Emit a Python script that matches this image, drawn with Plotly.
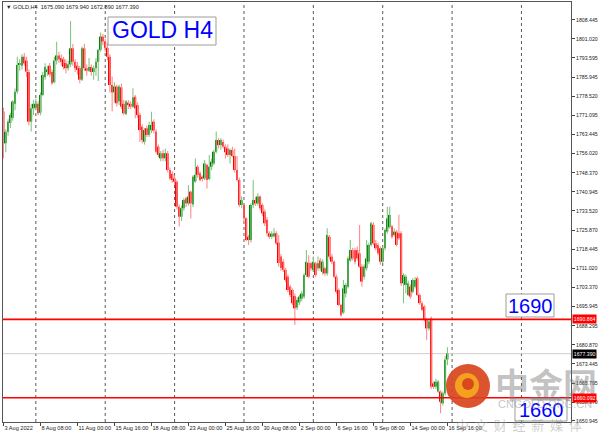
import plotly.graph_objects as go

# ---------------- data ----------------
symbol = "GOLD"
timeframe = "H4"

opens = [1772.5, 1760.0, 1764.5, 1768.0, 1770.0, 1775.5, 1780.3, 1790.8, 1790.5, 1794.0,
         1792.5, 1788.0, 1768.5, 1773.7, 1774.0, 1775.5, 1772.0, 1779.0, 1786.0, 1788.0,
         1790.5, 1788.0, 1784.0, 1792.5, 1794.5, 1793.5, 1793.0, 1791.5, 1789.5, 1791.0,
         1797.3, 1792.0, 1790.5, 1789.5, 1785.0, 1797.3, 1789.5, 1788.5, 1790.0, 1788.0,
         1789.5, 1792.0, 1796.7, 1801.9, 1800.0, 1797.5, 1794.0, 1782.9, 1780.0, 1782.3,
         1776.5, 1782.0, 1775.5, 1771.5, 1776.0, 1775.5, 1774.4, 1778.3, 1775.0, 1771.1,
         1766.5, 1760.6, 1765.9, 1763.3, 1765.2, 1768.5, 1764.6, 1758.7, 1754.1, 1756.1,
         1754.1, 1756.1, 1749.5, 1748.0, 1746.2, 1744.9, 1735.1, 1731.2, 1734.5, 1738.4,
         1736.4, 1741.0, 1736.0, 1745.0, 1750.8, 1748.2, 1746.9, 1746.2, 1751.5, 1746.0,
         1750.8, 1752.1, 1756.7, 1761.3, 1759.3, 1760.5, 1758.7, 1758.0, 1755.4, 1757.4,
         1755.0, 1749.5, 1745.6, 1735.8, 1735.8, 1730.6, 1723.3, 1722.0, 1735.8, 1737.7,
         1736.4, 1739.1, 1735.8, 1733.2, 1730.0, 1724.7, 1723.3, 1723.5, 1724.7, 1721.0,
         1715.5, 1713.5, 1710.3, 1707.6, 1703.7, 1702.4, 1700.0, 1695.5, 1697.5, 1699.0,
         1699.8, 1708.3, 1713.0, 1712.9, 1710.3, 1712.9, 1710.9, 1714.0, 1709.5, 1710.9,
         1708.9, 1723.3, 1715.5, 1713.5, 1707.6, 1702.4, 1696.5, 1693.5, 1701.0, 1703.7,
         1714.0, 1718.1, 1718.0, 1718.1, 1716.8, 1711.6, 1707.6, 1710.9, 1713.5, 1720.1,
         1728.0, 1720.7, 1720.0, 1718.8, 1713.5, 1718.8, 1725.3, 1727.0, 1727.3, 1724.0,
         1725.3, 1724.7, 1724.7, 1705.0, 1704.4, 1700.4, 1703.7, 1701.7, 1703.7, 1707.0,
         1700.4, 1697.2, 1695.9, 1690.6, 1687.3, 1691.3, 1665.7, 1664.4, 1662.5, 1662.5,
         1657.9, 1661.8, 1675.09]
highs = [1774.0, 1765.5, 1769.5, 1772.0, 1777.0, 1781.5, 1794.0, 1793.0, 1795.0, 1795.5,
         1794.0, 1789.0, 1775.5, 1777.0, 1777.5, 1776.5, 1780.0, 1788.0, 1791.4, 1790.5,
         1791.5, 1789.0, 1794.0, 1799.9, 1796.0, 1795.0, 1794.0, 1793.0, 1792.5, 1808.0,
         1799.0, 1793.0, 1792.0, 1790.5, 1798.0, 1799.0, 1791.0, 1793.5, 1791.0, 1790.5,
         1793.5, 1797.0, 1803.5, 1803.0, 1801.0, 1799.5, 1795.0, 1786.2, 1784.0, 1783.0,
         1783.0, 1783.5, 1777.0, 1777.0, 1777.0, 1776.5, 1781.6, 1779.0, 1776.0, 1772.0,
         1767.5, 1766.0, 1767.0, 1768.5, 1772.4, 1769.5, 1765.5, 1759.5, 1757.0, 1757.5,
         1758.0, 1757.0, 1750.5, 1749.0, 1747.5, 1745.5, 1736.0, 1735.5, 1738.5, 1739.0,
         1743.6, 1741.5, 1747.5, 1754.0, 1751.5, 1749.0, 1747.5, 1753.4, 1752.0, 1755.4,
         1754.0, 1757.5, 1764.6, 1762.0, 1762.0, 1761.5, 1759.5, 1759.5, 1758.0, 1758.7,
         1758.0, 1755.0, 1746.5, 1739.1, 1736.5, 1731.0, 1724.0, 1736.5, 1745.6, 1739.0,
         1740.4, 1739.5, 1736.5, 1734.0, 1731.0, 1725.5, 1725.5, 1726.6, 1725.5, 1724.0,
         1716.5, 1714.5, 1711.0, 1708.5, 1704.5, 1703.0, 1701.0, 1699.5, 1700.5, 1702.0,
         1709.0, 1718.1, 1716.0, 1713.5, 1715.5, 1713.5, 1715.5, 1715.0, 1714.5, 1711.5,
         1726.6, 1724.0, 1716.5, 1714.0, 1708.5, 1703.0, 1697.0, 1706.3, 1705.0, 1715.5,
         1722.0, 1719.0, 1719.0, 1719.5, 1727.9, 1712.5, 1712.5, 1722.0, 1721.0, 1729.2,
         1729.0, 1722.0, 1721.0, 1719.5, 1719.5, 1726.5, 1735.1, 1735.1, 1728.0, 1726.5,
         1726.0, 1731.9, 1725.5, 1709.0, 1708.5, 1706.0, 1704.5, 1707.0, 1707.5, 1707.6,
         1701.0, 1698.0, 1696.5, 1691.3, 1691.0, 1692.0, 1666.5, 1667.5, 1667.0, 1663.0,
         1662.5, 1676.5, 1679.94]
lows = [1754.0, 1756.5, 1763.0, 1766.0, 1769.0, 1773.0, 1779.5, 1788.5, 1789.0, 1790.5,
        1786.0, 1767.0, 1764.6, 1771.0, 1773.0, 1771.0, 1771.0, 1778.5, 1785.0, 1786.5,
        1786.0, 1782.9, 1783.5, 1791.0, 1791.5, 1790.5, 1789.0, 1787.5, 1788.5, 1790.0,
        1790.5, 1788.0, 1787.0, 1783.6, 1784.5, 1788.5, 1786.5, 1788.0, 1786.5, 1785.0,
        1786.5, 1784.5, 1796.0, 1798.5, 1796.0, 1792.5, 1780.0, 1772.5, 1776.0, 1774.5,
        1775.0, 1773.5, 1771.0, 1771.0, 1773.5, 1773.5, 1774.0, 1769.8, 1770.0, 1760.6,
        1760.0, 1759.5, 1762.5, 1762.5, 1764.0, 1764.0, 1756.0, 1754.5, 1753.0, 1753.0,
        1753.0, 1748.5, 1745.5, 1744.5, 1743.5, 1734.0, 1727.3, 1729.5, 1733.5, 1735.0,
        1735.5, 1730.5, 1735.0, 1744.5, 1746.5, 1745.0, 1745.0, 1745.5, 1742.3, 1745.5,
        1749.5, 1751.5, 1756.0, 1758.0, 1757.5, 1758.0, 1754.0, 1754.5, 1752.1, 1754.5,
        1748.5, 1745.0, 1735.0, 1734.5, 1729.5, 1721.5, 1720.1, 1721.0, 1734.5, 1735.5,
        1735.5, 1733.5, 1731.5, 1727.5, 1723.5, 1722.5, 1722.5, 1723.0, 1720.1, 1711.5,
        1710.0, 1709.5, 1705.5, 1701.5, 1699.5, 1696.5, 1688.6, 1694.5, 1696.5, 1698.0,
        1699.0, 1707.5, 1707.0, 1710.0, 1709.5, 1707.5, 1710.0, 1710.0, 1708.5, 1708.0,
        1708.0, 1714.5, 1712.5, 1707.0, 1701.0, 1696.0, 1691.9, 1693.0, 1699.5, 1703.0,
        1713.5, 1714.0, 1712.5, 1714.0, 1711.0, 1703.7, 1706.5, 1710.0, 1712.5, 1719.5,
        1720.0, 1718.0, 1716.0, 1712.3, 1712.9, 1718.0, 1724.5, 1726.5, 1722.5, 1723.3,
        1719.5, 1722.0, 1704.0, 1697.2, 1701.0, 1700.0, 1699.0, 1701.0, 1703.0, 1700.0,
        1696.5, 1694.0, 1690.0, 1682.8, 1686.5, 1663.5, 1663.5, 1663.5, 1662.0, 1654.0,
        1657.0, 1661.0, 1672.89]
closes = [1760.0, 1764.5, 1768.5, 1771.1, 1776.4, 1780.3, 1790.8, 1791.5, 1794.0, 1791.4,
          1788.2, 1768.5, 1773.7, 1775.5, 1775.5, 1771.8, 1779.0, 1786.8, 1790.0, 1789.0,
          1787.0, 1783.6, 1792.5, 1794.5, 1793.0, 1792.0, 1790.0, 1789.5, 1791.0, 1797.3,
          1792.0, 1789.5, 1788.8, 1785.0, 1797.3, 1789.5, 1788.5, 1790.0, 1788.0, 1789.5,
          1792.0, 1796.7, 1801.9, 1800.0, 1797.5, 1794.0, 1782.9, 1780.0, 1782.3, 1775.7,
          1782.3, 1774.4, 1771.8, 1776.4, 1775.0, 1774.4, 1778.0, 1773.7, 1771.1, 1765.2,
          1761.3, 1765.2, 1763.3, 1767.2, 1767.2, 1765.0, 1756.7, 1755.4, 1756.1, 1754.1,
          1756.1, 1749.5, 1746.2, 1745.6, 1744.9, 1735.1, 1731.2, 1734.5, 1737.7, 1736.4,
          1739.1, 1736.4, 1746.9, 1747.6, 1747.6, 1745.6, 1746.0, 1752.1, 1745.6, 1750.8,
          1752.8, 1756.7, 1761.3, 1759.3, 1761.3, 1758.7, 1756.5, 1755.4, 1757.4, 1755.0,
          1749.5, 1745.6, 1735.8, 1737.7, 1730.6, 1722.0, 1722.0, 1735.8, 1737.7, 1736.4,
          1739.1, 1734.5, 1732.5, 1728.6, 1724.7, 1723.3, 1724.5, 1724.7, 1720.7, 1713.0,
          1711.0, 1710.3, 1706.3, 1702.4, 1700.4, 1697.2, 1695.2, 1698.5, 1699.8, 1701.0,
          1708.3, 1713.5, 1707.6, 1710.9, 1713.5, 1708.3, 1712.9, 1710.9, 1713.5, 1708.9,
          1724.0, 1715.5, 1713.5, 1707.6, 1701.7, 1696.5, 1692.5, 1703.0, 1704.4, 1714.8,
          1718.1, 1714.8, 1713.5, 1714.8, 1711.6, 1705.7, 1711.6, 1714.8, 1720.1, 1728.6,
          1720.7, 1718.8, 1716.8, 1713.5, 1718.8, 1726.0, 1730.5, 1731.9, 1723.3, 1725.3,
          1720.1, 1722.7, 1705.0, 1708.3, 1707.6, 1705.0, 1699.8, 1706.3, 1706.3, 1700.4,
          1697.2, 1694.6, 1690.6, 1687.3, 1690.0, 1664.4, 1664.4, 1666.4, 1666.4, 1658.5,
          1661.8, 1675.0, 1677.39]

# time-axis labels, one every 16 bars
time_labels = ["3 Aug 2022", "8 Aug 08:00", "11 Aug 00:00", "15 Aug 16:00", "18 Aug 08:00",
               "23 Aug 00:00", "25 Aug 16:00", "30 Aug 08:00", "2 Sep 00:00", "6 Sep 16:00",
               "9 Sep 08:00", "14 Sep 00:00", "16 Sep 16:00"]
label_step = 16
# bar index of each Monday 00:00 (weekly period separators)
week_start_idx = [14, 44, 74, 104, 134, 164, 194, 224]

# price scale tick values
y_ticks = [1808.445, 1801.020, 1793.595, 1785.945, 1778.520, 1771.095, 1763.445, 1756.020,
           1748.370, 1740.945, 1733.520, 1725.870, 1718.445, 1711.020, 1703.370, 1695.945,
           1688.295, 1680.870, 1673.445, 1665.795, 1658.370, 1650.945]

# horizontal levels drawn on the chart
level_prices = [1690.864, 1660.092]
level_texts = ["1690", "1660"]

# ---------------- layout geometry ----------------
W, H = 602, 436
ML, MR, MT, MB = 3, 31, 2, 14
PW, PH = W - ML - MR, H - MT - MB
BAR_PX = 2.3125
X0 = -0.2
Y_RANGE = [1650.55, 1815.5]


def pxx(x):
    return (x - ML) / PW


def pxy(y):
    return (H - MB - y) / PH


n = len(closes)
idx = list(range(n))
up = [c >= o for o, c in zip(opens, closes)]

BULL, BEAR = "#008000", "#ff0000"
BULL_W, BEAR_W = "#86c486", "#ff8c8c"

fig = go.Figure()

# wicks
for mask, col in ((up, BULL_W), ([not u for u in up], BEAR_W)):
    xs, ys = [], []
    for i in idx:
        if mask[i]:
            lo = min(lows[i], opens[i], closes[i])
            hi = max(highs[i], opens[i], closes[i])
            xs += [i, i, None]
            ys += [lo, hi, None]
    fig.add_trace(go.Scatter(x=xs, y=ys, mode="lines", line=dict(color=col, width=1.1),
                             hoverinfo="skip", showlegend=False))

# bodies
fig.add_trace(go.Bar(
    x=idx,
    base=[min(o, c) for o, c in zip(opens, closes)],
    y=[max(abs(c - o), 0.35) for o, c in zip(opens, closes)],
    width=0.82,
    marker=dict(color=[BULL if u else BEAR for u in up], line=dict(width=0)),
    hoverinfo="skip", showlegend=False))

shapes = []
# weekly separators
for w in week_start_idx:
    shapes.append(dict(type="line", xref="x", yref="paper", x0=w, x1=w, y0=0, y1=1,
                       line=dict(color="#5a5a5a", width=1, dash="dot"), layer="below"))
# bid line
shapes.append(dict(type="line", xref="paper", yref="y", x0=0, x1=1, y0=closes[-1], y1=closes[-1],
                   line=dict(color="#cfcfcf", width=1), layer="below"))
# level lines
for lp in level_prices:
    shapes.append(dict(type="line", xref="paper", yref="y", x0=0, x1=1, y0=lp, y1=lp,
                       line=dict(color="#ff0000", width=1.6)))

# text label boxes (pixel rectangles)
boxes = [((108, 17, 216, 45), f"{symbol} {timeframe}", 23, (162, 30.5)),
         ((506, 294, 554, 317), level_texts[0], 20, (530, 305.5)),
         ((515, 399, 567, 421), level_texts[1], 20, (541, 410))]
annotations = []
for (x0, y0, x1, y1), txt, fs, (cx, cy) in boxes:
    shapes.append(dict(type="rect", xref="paper", yref="paper",
                       x0=pxx(x0), x1=pxx(x1), y0=pxy(y1), y1=pxy(y0),
                       line=dict(color="#9c9c9c", width=1), fillcolor="white", layer="above"))
    annotations.append(dict(xref="paper", yref="paper", x=pxx(cx), y=pxy(cy), text=txt,
                            showarrow=False, xanchor="center", yanchor="middle",
                            font=dict(family="Liberation Sans, Arial", size=fs, color="#0000ff")))

# watermark logo
shapes.append(dict(type="circle", xref="paper", yref="paper",
                   x0=pxx(446), x1=pxx(490), y0=pxy(408), y1=pxy(364),
                   fillcolor="#d8441d", line=dict(width=0), opacity=0.92, layer="above"))
shapes.append(dict(type="circle", xref="paper", yref="paper",
                   x0=pxx(455), x1=pxx(479), y0=pxy(398), y1=pxy(373),
                   fillcolor="#f5a51f", line=dict(width=0), opacity=0.95, layer="above"))
shapes.append(dict(type="circle", xref="paper", yref="paper",
                   x0=pxx(462), x1=pxx(474), y0=pxy(390), y1=pxy(378),
                   fillcolor="#d8441d", line=dict(width=0), opacity=0.95, layer="above"))

annotations += [
    dict(xref="paper", yref="paper", x=pxx(493), y=pxy(383), text="<b>中金网</b>", showarrow=False,
         xanchor="left", yanchor="middle",
         font=dict(family="Noto Sans CJK SC", size=34, color="rgba(120,120,120,0.45)")),
    dict(xref="paper", yref="paper", x=pxx(496), y=pxy(404), text="CNGOLD.ORG.CN", showarrow=False,
         xanchor="left", yanchor="middle",
         font=dict(family="Liberation Sans, Arial", size=11, color="rgba(140,140,140,0.5)")),
    dict(xref="paper", yref="paper", x=pxx(519), y=pxy(424), text="中  文  财  经  新  媒  体",
         showarrow=False, xanchor="center", yanchor="middle",
         font=dict(family="Noto Sans CJK SC", size=13, color="rgba(140,140,140,0.45)")),
]

# header line
hdr = (f"▼ {symbol},{timeframe}  {opens[-1]:.3f} {highs[-1]:.3f} "
       f"{lows[-1]:.3f} {closes[-1]:.3f}")
annotations.append(dict(xref="paper", yref="paper", x=pxx(4), y=pxy(7), text=hdr, showarrow=False,
                        xanchor="left", yanchor="middle",
                        font=dict(family="Liberation Sans, Arial", size=5.6, color="#222222")))

# price tags on the right scale
tags = [(level_prices[0], "#ff0000"), (level_prices[1], "#ff0000"), (closes[-1], "#000000")]
for val, bg in tags:
    annotations.append(dict(xref="paper", yref="y", x=1, y=val, text=f"{val:.3f}", showarrow=False,
                            xanchor="left", yanchor="middle", xshift=1, bgcolor=bg, borderpad=0.8,
                            font=dict(family="Liberation Sans, Arial", size=5.2, color="white")))

fig.update_layout(
    width=W, height=H, autosize=False,
    margin=dict(l=ML, r=MR, t=MT, b=MB, pad=0),
    paper_bgcolor="white", plot_bgcolor="white",
    showlegend=False, barmode="overlay",
    shapes=shapes, annotations=annotations,
    xaxis=dict(range=[X0, X0 + PW / BAR_PX], showgrid=False, zeroline=False, automargin=False,
               tickmode="array", tickvals=list(range(0, n, label_step)), ticktext=time_labels,
               tickangle=0, ticks="outside", ticklen=3, tickcolor="#444",
               ticklabelposition="outside right",
               tickfont=dict(family="Liberation Sans, Arial", size=5.6, color="#222"),
               showline=True, linecolor="#555", linewidth=1, mirror=True, fixedrange=True),
    yaxis=dict(range=Y_RANGE, side="right", showgrid=False, zeroline=False, automargin=False,
               tickmode="array", tickvals=y_ticks, ticktext=[f"{v:.3f}" for v in y_ticks],
               ticks="outside", ticklen=3, tickcolor="#444",
               tickfont=dict(family="Liberation Sans, Arial", size=5.2, color="#222"),
               showline=True, linecolor="#555", linewidth=1, mirror=True, fixedrange=True),
)

fig.write_html("out.html", config={"displayModeBar": False},
               post_script="document.body.style.margin='0';document.body.style.padding='0';")
